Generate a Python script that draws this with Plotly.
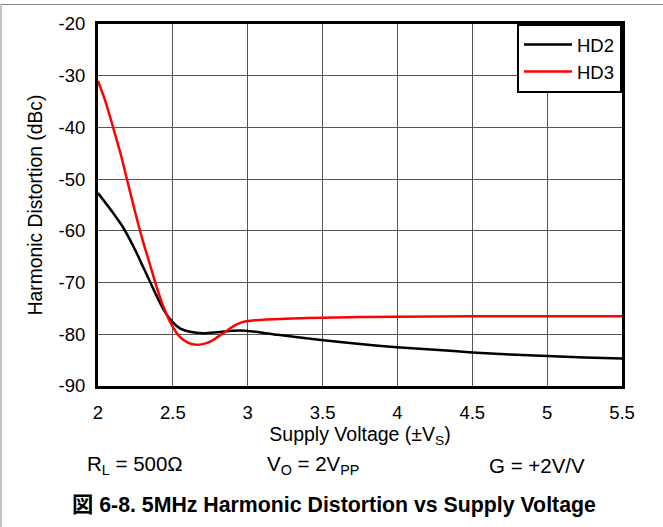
import plotly.graph_objects as go

# Data
hd2_x = [2.0, 2.1, 2.167, 2.25, 2.30, 2.35, 2.40, 2.45, 2.50, 2.55, 2.614, 2.70, 2.80, 2.90, 2.99, 3.2, 3.49, 3.75, 3.995, 4.25, 4.50, 4.75, 5.0, 5.25, 5.5]
hd2_y = [-52.7, -56.5, -59.3, -63.8, -66.9, -70.0, -73.1, -75.8, -77.7, -78.9, -79.5, -79.8, -79.6, -79.3, -79.3, -80.1, -81.1, -81.9, -82.5, -83.0, -83.5, -83.9, -84.2, -84.5, -84.7]
hd3_x = [2.0, 2.05, 2.10, 2.15, 2.20, 2.25, 2.30, 2.35, 2.40, 2.45, 2.50, 2.55, 2.60, 2.65, 2.70, 2.75, 2.80, 2.86, 2.92, 2.97, 3.05, 3.25, 3.5, 4.0, 4.5, 5.0, 5.5]
hd3_y = [-31.0, -35.0, -39.9, -45.0, -50.8, -56.6, -62.0, -66.8, -71.6, -75.6, -78.6, -80.6, -81.6, -82.0, -81.9, -81.4, -80.5, -79.3, -78.2, -77.6, -77.3, -77.0, -76.8, -76.6, -76.5, -76.5, -76.5]
x_ticks = [2, 2.5, 3, 3.5, 4, 4.5, 5, 5.5]
x_tick_labels = ["2", "2.5", "3", "3.5", "4", "4.5", "5", "5.5"]
y_ticks = [-20, -30, -40, -50, -60, -70, -80, -90]
y_tick_labels = ["-20", "-30", "-40", "-50", "-60", "-70", "-80", "-90"]

FONT = "Arial, Liberation Sans, Noto Sans CJK JP, sans-serif"

fig = go.Figure()
fig.add_trace(go.Scatter(x=hd2_x, y=hd2_y, mode="lines", name="HD2",
                         line=dict(color="black", width=2.5, shape="spline", smoothing=0.8)))
fig.add_trace(go.Scatter(x=hd3_x, y=hd3_y, mode="lines", name="HD3",
                         line=dict(color="#ff0000", width=2.5, shape="spline", smoothing=0.8)))

fig.update_layout(
    width=663, height=527,
    margin=dict(l=98, r=41, t=24, b=141),
    paper_bgcolor="white", plot_bgcolor="white",
    font=dict(family=FONT, size=18, color="black"),
    showlegend=True,
    legend=dict(x=1, y=1, xanchor="right", yanchor="top",
                bordercolor="black", borderwidth=2, bgcolor="white",
                font=dict(size=18.5), tracegroupgap=0, itemwidth=48),
    xaxis=dict(range=[2, 5.5], tickvals=x_ticks, ticktext=x_tick_labels,
               showgrid=True, gridcolor="#555555", gridwidth=1.3,
               showline=True, linecolor="black", linewidth=3, mirror=True,
               ticks="outside", ticklen=8, tickcolor="rgba(0,0,0,0)",
               tickfont=dict(size=18.5), zeroline=False,
               title=dict(text="Supply Voltage (±V<sub>S</sub>)", font=dict(size=19.5), standoff=1)),
    yaxis=dict(range=[-90, -20], tickvals=y_ticks, ticktext=y_tick_labels,
               showgrid=True, gridcolor="#555555", gridwidth=1.3,
               showline=True, linecolor="black", linewidth=3, mirror=True,
               ticks="outside", ticklen=6, tickcolor="rgba(0,0,0,0)",
               tickfont=dict(size=18.5), zeroline=False,
               title=dict(text="Harmonic Distortion (dBc)", font=dict(size=19.3), standoff=11)),
)

annots = [
    dict(text="R<sub>L</sub> = 500Ω", x=85, y=465),
    dict(text="V<sub>O</sub> = 2V<sub>PP</sub>", x=265, y=465),
    dict(text="G = +2V/V", x=487, y=465),
]
for a in annots:
    fig.add_annotation(text=a["text"], xref="paper", yref="paper",
                       x=(a["x"] - 98) / 524, y=(386 - a["y"]) / 362,
                       xanchor="left", yanchor="middle", showarrow=False,
                       font=dict(size=20.5, family=FONT))
fig.add_annotation(text="<b>図 6-8. 5MHz Harmonic Distortion vs Supply Voltage</b>",
                   xref="paper", yref="paper", x=(70 - 98) / 524, y=(386 - 505) / 362,
                   xanchor="left", yanchor="middle", showarrow=False,
                   font=dict(size=21.3, family=FONT))

# partial gray frame of the figure (top and left edges)
fig.add_shape(type="line", xref="paper", yref="paper",
              x0=(1 - 98) / 524, x1=(663 - 98) / 524, y0=(386 - 4.5) / 362, y1=(386 - 4.5) / 362,
              line=dict(color="#888888", width=1))
fig.add_shape(type="line", xref="paper", yref="paper",
              x0=(1 - 98) / 524, x1=(1 - 98) / 524, y0=(386 - 4.5) / 362, y1=(386 - 527) / 362,
              line=dict(color="#888888", width=1))

fig.write_html("out.html", config={"displayModeBar": False},
               post_script="document.body.style.margin='0px';")
